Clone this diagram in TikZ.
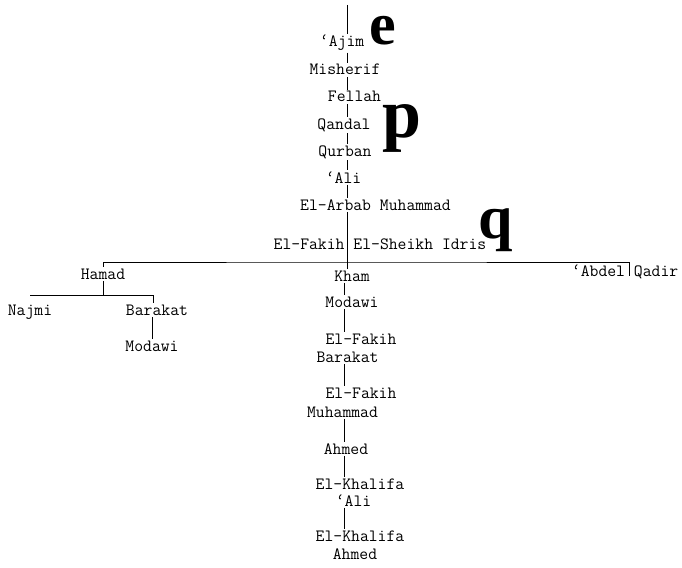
\documentclass[tikz,border=0pt]{standalone}
\usepackage{fontspec}
\usepackage{tikz}
\newfontfamily\bigserif{Liberation Serif}
\newcommand{\ayn}{\llap{‘}}

\tikzset{
  person/.style={font=\fontsize{17.2}{20}\selectfont\ttfamily\addfontfeature{FakeBold=1.2},inner sep=1.5pt,anchor=base},
  link/.style={line width=0.8pt},
  initial/.style={font=\bigserif\bfseries\fontsize{60}{60}\selectfont,inner sep=0pt,anchor=base west}
}

\begin{document}
\begin{tikzpicture}[x=1pt,y=-1pt]
\useasboundingbox (0,0) rectangle (682,567);

\coordinate (top) at (347,5);
\coordinate (bar) at (347,262);
\coordinate (low) at (344,262);
\coordinate (hbar) at (103,295);

% line of descent down to Idris
\node[person] (ajim) at (346.5,47) {\ayn Ajim};
\node[person] (misherif) at (345,75) {Misherif};
\node[person] (fellah) at (354.5,102) {Fellah};
\node[person] (qandal) at (344,129) {Qandal};
\node[person] (qurban) at (345,156) {Qurban};
\node[person] (ali1) at (348,183) {\ayn Ali};
\node[person] (arbab) at (375.5,210) {El-Arbab Muhammad};
\node[person] (idris) at (380,249) {El-Fakih El-Sheikh Idris};

\node[initial] (e) at (369,45) {e};
\node[initial,font=\bigserif\bfseries\fontsize{70}{70}\selectfont] (p) at (382,138) {p};
\node[initial,font=\bigserif\bfseries\fontsize{62}{62}\selectfont] (q) at (478,238) {q};

% sons of Idris
\node[person] (hamad) at (103,279) {Hamad};
\node[person] (kham) at (352,281) {Kham};
\node[person] (abdel) at (629.5,276) {\ayn Abdel Qadir};

\node[person] (najmi) at (30,315) {Najmi};
\node[person] (barakatH) at (157,315) {Barakat};
\node[person] (modawiH) at (152,351) {Modawi};

\node[person] (modawi) at (352,307) {Modawi};
\node[person] (fakih1) at (361,344) {El-Fakih};
\node[person] (barakat) at (347.5,362) {Barakat};
\node[person] (fakih2) at (361,398) {El-Fakih};
\node[person] (muhammad) at (342.5,417) {Muhammad};
\node[person] (ahmed1) at (346,454) {Ahmed};
\node[person] (khalifa1) at (360,489) {El-Khalifa};
\node[person] (ali2) at (358,506) {\ayn Ali};
\node[person] (khalifa2) at (360,541) {El-Khalifa};
\node[person] (ahmed2) at (355,559) {Ahmed};

% upper stem
\draw[link] (top) -- (ajim.north -| top);
\draw[link] (ajim.south -| top) -- (misherif.north -| top);
\draw[link] (misherif.south -| top) -- (fellah.north -| top);
\draw[link] (fellah.south -| top) -- (qandal.north -| top);
\draw[link] (qandal.south -| top) -- (qurban.north -| top);
\draw[link] (qurban.south -| top) -- (ali1.north -| top);
\draw[link] (ali1.south -| top) -- (arbab.north -| top);
\draw[link] (arbab.south -| bar) -- (bar);

% the bar of Idris' sons
\draw[link] (hamad.north) |- (bar) -| (abdel.base);
\draw[link] (bar) -- (kham.north -| bar);

% Hamad's line
\draw[link] (hamad.south) -- (hbar);
\draw[link] (najmi.north |- hbar) -| ([xshift=-4pt]barakatH.north);
\draw[link] (barakatH.south -| modawiH) -- (modawiH.north);

% lower stem
\draw[link] (kham.south -| low) -- (modawi.north -| low);
\draw[link] (modawi.south -| low) -- (fakih1.north -| low);
\draw[link] (barakat.south -| low) -- (fakih2.north -| low);
\draw[link] (muhammad.south -| low) -- (ahmed1.north -| low);
\draw[link] (ahmed1.south -| low) -- (khalifa1.north -| low);
\draw[link] (ali2.south -| low) -- (khalifa2.north -| low);

\end{tikzpicture}
\end{document}
